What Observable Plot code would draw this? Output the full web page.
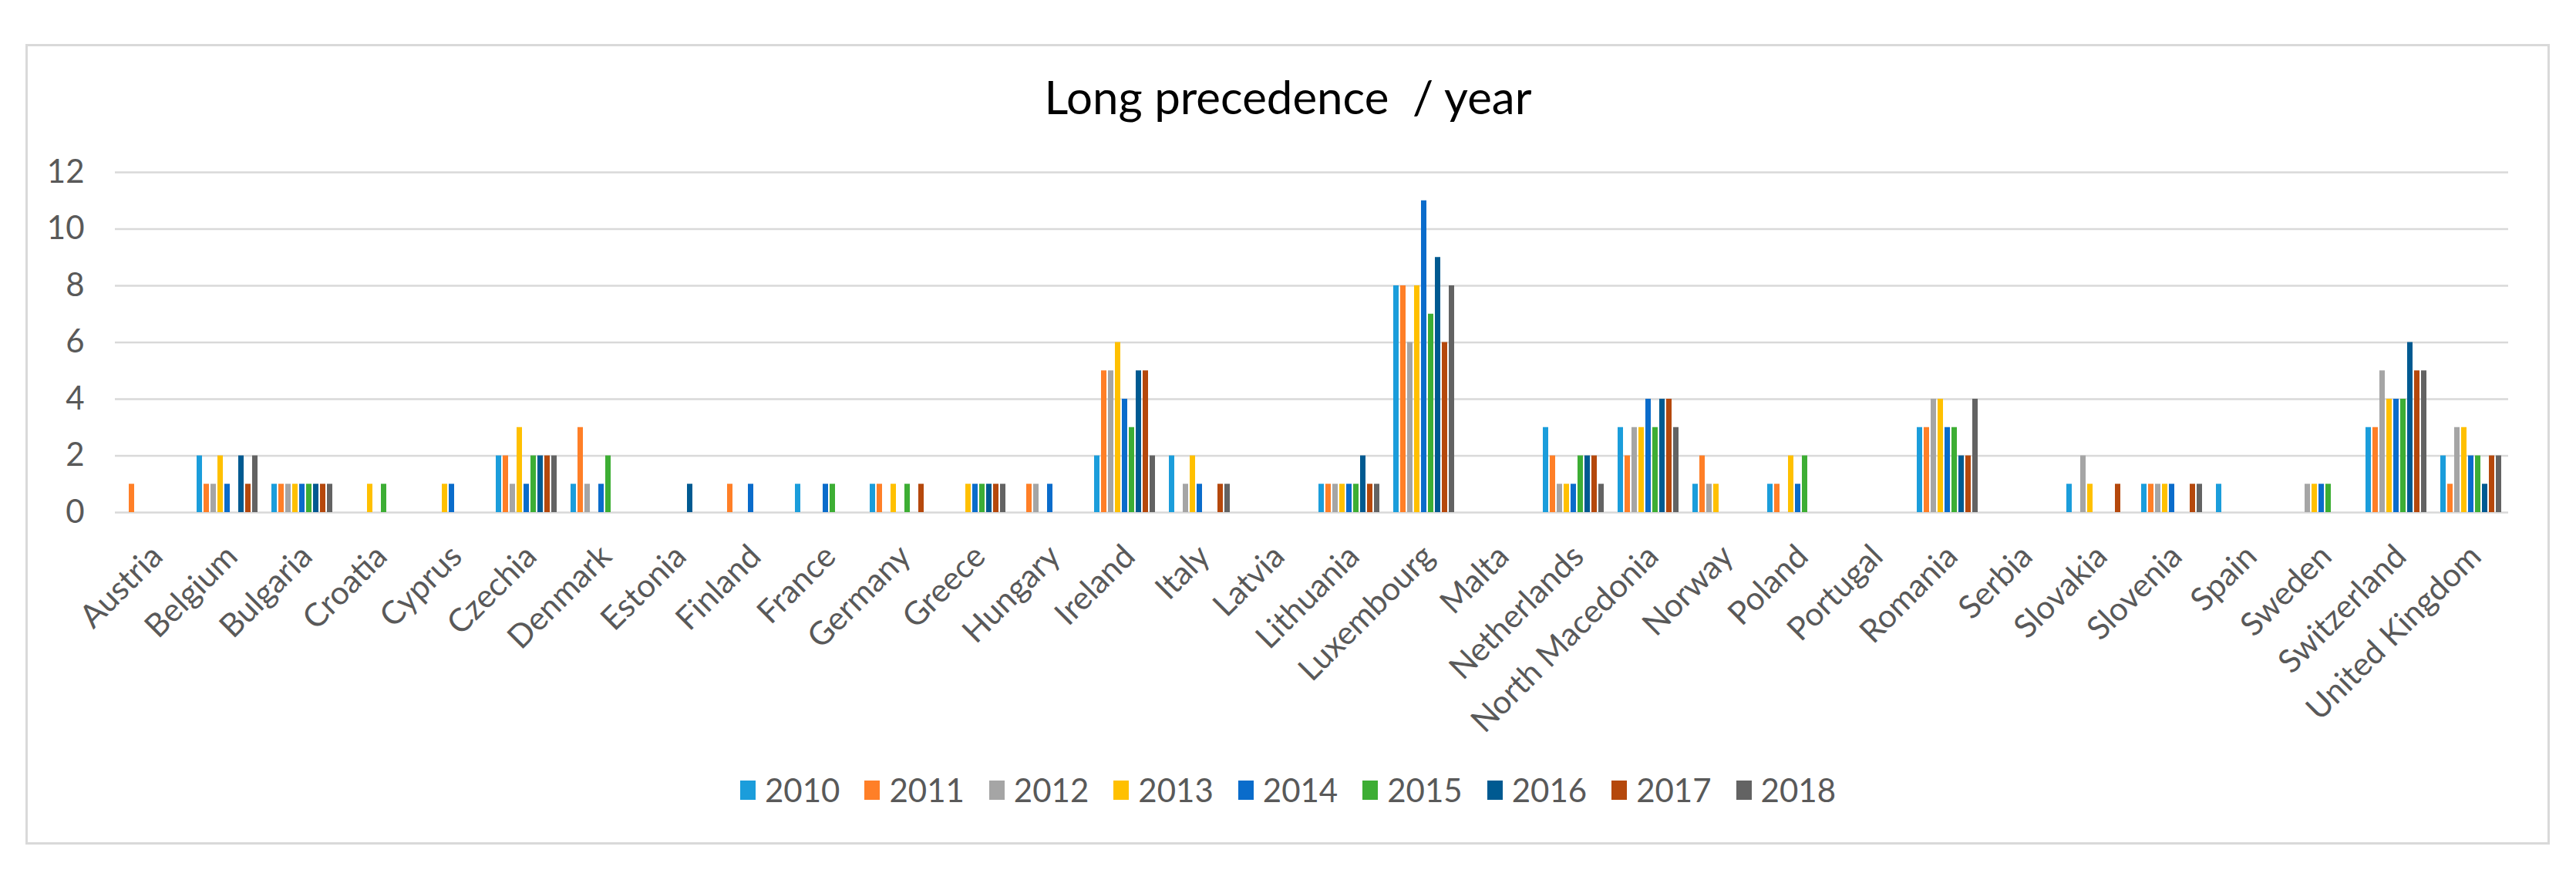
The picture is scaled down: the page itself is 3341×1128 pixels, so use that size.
<!DOCTYPE html>
<html>
<head>
<meta charset="utf-8">
<script src="https://cdn.jsdelivr.net/npm/d3@7"></script>
<script src="https://cdn.jsdelivr.net/npm/@observablehq/plot@0.6"></script>
<style>
  html, body { margin: 0; padding: 0; background: #fff; }
  body { width: 3341px; height: 1128px; position: relative; overflow: hidden; font-family: Lato, "Open Sans", sans-serif; }
  #frame { position: absolute; left: 33px; top: 57px; width: 3268px; height: 1032px; border: 3px solid #d9d9d9; box-sizing: content-box; }
  #title { position: absolute; left: 0; width: 3341px; top: 95px; text-align: center; font-size: 60px; color: #000; line-height: 1; }
  #chart { position: absolute; left: 0; top: 0; }
  #legend { position: absolute; left: 0; width: 3341px; top: 999px; display: flex; justify-content: center; align-items: center; font-size: 42px; color: #595959; }
  .item { display: flex; align-items: center; margin: 0 16px; }
  .sw { width: 20px; height: 25px; margin-right: 12px; }
</style>
</head>
<body>
<div id="frame"></div>
<div id="title">Long precedence&nbsp; / year</div>
<div id="chart"></div>
<div id="legend"></div>
<script>
const countries = ["Austria","Belgium","Bulgaria","Croatia","Cyprus","Czechia","Denmark","Estonia","Finland","France","Germany","Greece","Hungary","Ireland","Italy","Latvia","Lithuania","Luxembourg","Malta","Netherlands","North Macedonia","Norway","Poland","Portugal","Romania","Serbia","Slovakia","Slovenia","Spain","Sweden","Switzerland","United Kingdom"];
const years = ["2010","2011","2012","2013","2014","2015","2016","2017","2018"];
const colors = ["#1b9ddb","#ff7f27","#a5a5a5","#ffc000","#0a6ccb","#3dae34","#005a91","#b5480c","#636363"];
const yTicks = [0,2,4,6,8,10,12];

const v2010 = [0,2,1,0,0,2,1,0,0,1,1,0,0,2,2,0,1,8,0,3,3,1,1,0,3,0,1,1,1,0,3,2];
const v2011 = [1,1,1,0,0,2,3,0,1,0,1,0,1,5,0,0,1,8,0,2,2,2,1,0,3,0,0,1,0,0,3,1];
const v2012 = [0,1,1,0,0,1,1,0,0,0,0,0,1,5,1,0,1,6,0,1,3,1,0,0,4,0,2,1,0,1,5,3];
const v2013 = [0,2,1,1,1,3,0,0,0,0,1,1,0,6,2,0,1,8,0,1,3,1,2,0,4,0,1,1,0,1,4,3];
const v2014 = [0,1,1,0,1,1,1,0,1,1,0,1,1,4,1,0,1,11,0,1,4,0,1,0,3,0,0,1,0,1,4,2];
const v2015 = [0,0,1,1,0,2,2,0,0,1,1,1,0,3,0,0,1,7,0,2,3,0,2,0,3,0,0,0,0,1,4,2];
const v2016 = [0,2,1,0,0,2,0,1,0,0,0,1,0,5,0,0,2,9,0,2,4,0,0,0,2,0,0,0,0,0,6,1];
const v2017 = [0,1,1,0,0,2,0,0,0,0,1,1,0,5,1,0,1,6,0,2,4,0,0,0,2,0,1,1,0,0,5,2];
const v2018 = [0,2,1,0,0,2,0,0,0,0,0,1,0,2,1,0,1,8,0,1,3,0,0,0,4,0,0,1,0,0,5,2];

const series = [v2010,v2011,v2012,v2013,v2014,v2015,v2016,v2017,v2018];
const data = [];
countries.forEach((c, i) => {
  years.forEach((y, j) => {
    data.push({country: c, year: y, value: series[j][i]});
  });
});

const plot = Plot.plot({
  width: 3341,
  height: 900,
  marginTop: 223,
  marginBottom: 236,
  marginLeft: 147,
  marginRight: 86,
  style: {fontFamily: "Lato, 'Open Sans', sans-serif", background: "transparent", overflow: "visible"},
  fx: {domain: countries, padding: 0, label: null},
  x: {domain: years, paddingInner: 0.22, paddingOuter: 0.75, axis: null},
  y: {domain: [0, 12], label: null},
  color: {domain: years, range: colors},
  marks: [
    Plot.gridY(yTicks, {stroke: "#d9d9d9", strokeOpacity: 1, strokeWidth: 2.6}),
    Plot.axisY({ticks: yTicks, tickSize: 0, tickPadding: 40, fontSize: 42, color: "#595959", label: null}),
    Plot.axisFx({anchor: "bottom", tickRotate: -45, tickSize: 0, tickPadding: 50, dx: 6, fontSize: 42, color: "#595959", label: null}),
    Plot.barY(data, {fx: "country", x: "year", y: "value", fill: "year"})
  ]
});
document.getElementById("chart").appendChild(plot);

const legend = document.getElementById("legend");
years.forEach((y, j) => {
  const it = document.createElement("div");
  it.className = "item";
  const sw = document.createElement("div");
  sw.className = "sw";
  sw.style.background = colors[j];
  const t = document.createElement("span");
  t.textContent = y;
  it.appendChild(sw);
  it.appendChild(t);
  legend.appendChild(it);
});
</script>
</body>
</html>
